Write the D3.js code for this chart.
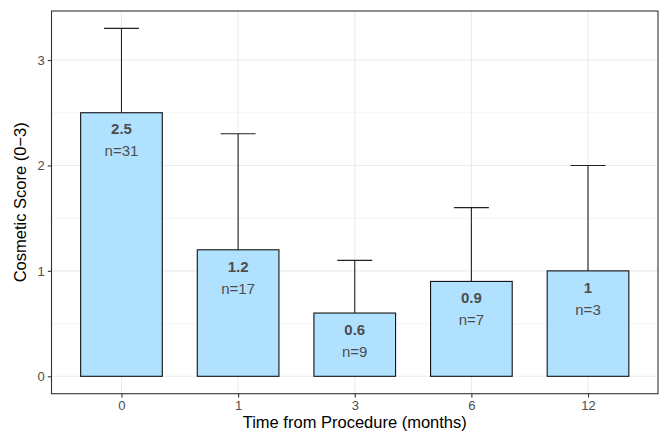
<!DOCTYPE html>
<html>
<head>
<meta charset="utf-8">
<script src="https://cdn.jsdelivr.net/npm/d3@7"></script>
<style>
  body { margin: 0; background: white; }
  text { font-family: "Liberation Sans", Arial, sans-serif; }
</style>
</head>
<body>
<div id="vizContainer"></div>
<script>
let w = 664;
let h = 433;

// data
let months = ["0", "1", "3", "6", "12"];
let meanScore = [2.5, 1.2, 0.6, 0.9, 1.0];
let upperScore = [3.3, 2.3, 1.1, 1.6, 2.0];
let nPatients = [31, 17, 9, 7, 3];
let yTicks = [0, 1, 2, 3];
let yMinor = [0.5, 1.5, 2.5];

let panelL = 51.5, panelR = 658, panelT = 11, panelB = 393.7;

let viz = d3.select('#vizContainer').append('svg')
	.attr('width', w)
	.attr('height', h)
	.style('background-color', 'white');

let xScale = d3.scalePoint().domain(months).range([panelL, panelR]).padding(0.6);
let yScale = d3.scaleLinear().domain([-0.165, 3.465]).range([panelB, panelT]);
let unit = xScale.step();

let grid = viz.append('g');
grid.selectAll('.minor').data(yMinor).enter().append('line')
	.attr('x1', panelL).attr('x2', panelR)
	.attr('y1', d => yScale(d)).attr('y2', d => yScale(d))
	.attr('stroke', '#EBEBEB').attr('stroke-width', 0.55);
grid.selectAll('.major').data(yTicks).enter().append('line')
	.attr('x1', panelL).attr('x2', panelR)
	.attr('y1', d => yScale(d)).attr('y2', d => yScale(d))
	.attr('stroke', '#EBEBEB').attr('stroke-width', 1.1);
grid.selectAll('.vmajor').data(months).enter().append('line')
	.attr('x1', d => xScale(d)).attr('x2', d => xScale(d))
	.attr('y1', panelT).attr('y2', panelB)
	.attr('stroke', '#EBEBEB').attr('stroke-width', 1.1);

let data = months.map((m, i) => ({m: m, mean: meanScore[i], up: upperScore[i], n: nPatients[i]}));

// error bars
let eb = viz.append('g');
eb.selectAll('.stem').data(data).enter().append('line')
	.attr('x1', d => xScale(d.m)).attr('x2', d => xScale(d.m))
	.attr('y1', d => yScale(d.mean)).attr('y2', d => yScale(d.up))
	.attr('stroke', '#222').attr('stroke-width', 1.1);
eb.selectAll('.cap').data(data).enter().append('line')
	.attr('x1', d => xScale(d.m) - unit * 0.15).attr('x2', d => xScale(d.m) + unit * 0.15)
	.attr('y1', d => yScale(d.up)).attr('y2', d => yScale(d.up))
	.attr('stroke', '#222').attr('stroke-width', 1.1);

// bars
viz.append('g').selectAll('rect').data(data).enter().append('rect')
	.attr('x', d => xScale(d.m) - unit * 0.35)
	.attr('width', unit * 0.7)
	.attr('y', d => yScale(d.mean))
	.attr('height', d => yScale(0) - yScale(d.mean))
	.attr('fill', '#B0E2FF')
	.attr('stroke', '#111').attr('stroke-width', 1.1);

// labels
let lab = viz.append('g');
lab.selectAll('.val').data(data).enter().append('text')
	.attr('x', d => xScale(d.m))
	.attr('y', d => yScale(d.mean) + 16.5)
	.attr('dy', '0.35em')
	.attr('text-anchor', 'middle')
	.attr('font-size', '15px')
	.attr('font-weight', 'bold')
	.attr('fill', '#4D4D4D')
	.text(d => d.mean);
lab.selectAll('.n').data(data).enter().append('text')
	.attr('x', d => xScale(d.m))
	.attr('y', d => yScale(d.mean) + 38.5)
	.attr('dy', '0.35em')
	.attr('text-anchor', 'middle')
	.attr('font-size', '15px')
	.attr('fill', '#4D4D4D')
	.text(d => 'n=' + d.n);

// panel border
viz.append('rect')
	.attr('x', panelL).attr('y', panelT)
	.attr('width', panelR - panelL).attr('height', panelB - panelT)
	.attr('fill', 'none').attr('stroke', '#333333').attr('stroke-width', 1.1);

// axes
let yAxis = viz.append('g')
	.attr('transform', 'translate(' + panelL + ',0)')
	.call(d3.axisLeft(yScale).tickValues(yTicks).tickFormat(d3.format('d')).tickSize(3.7).tickPadding(3));
let xAxis = viz.append('g')
	.attr('transform', 'translate(0,' + panelB + ')')
	.call(d3.axisBottom(xScale).tickSize(3.7).tickPadding(3));
[xAxis, yAxis].forEach(a => {
	a.select('.domain').remove();
	a.selectAll('line').attr('stroke', '#333333').attr('stroke-width', 1.1);
	a.selectAll('text').attr('fill', '#4D4D4D').attr('font-size', '13px');
});

viz.append('text')
	.attr('x', (panelL + panelR) / 2)
	.attr('y', 428)
	.attr('text-anchor', 'middle')
	.attr('font-size', '16.5px')
	.attr('fill', 'black')
	.text('Time from Procedure (months)');

viz.append('text')
	.attr('transform', 'translate(26,' + ((panelT + panelB) / 2) + ') rotate(-90)')
	.attr('text-anchor', 'middle')
	.attr('font-size', '16.5px')
	.attr('fill', 'black')
	.text('Cosmetic Score (0\u22123)');
</script>
</body>
</html>
